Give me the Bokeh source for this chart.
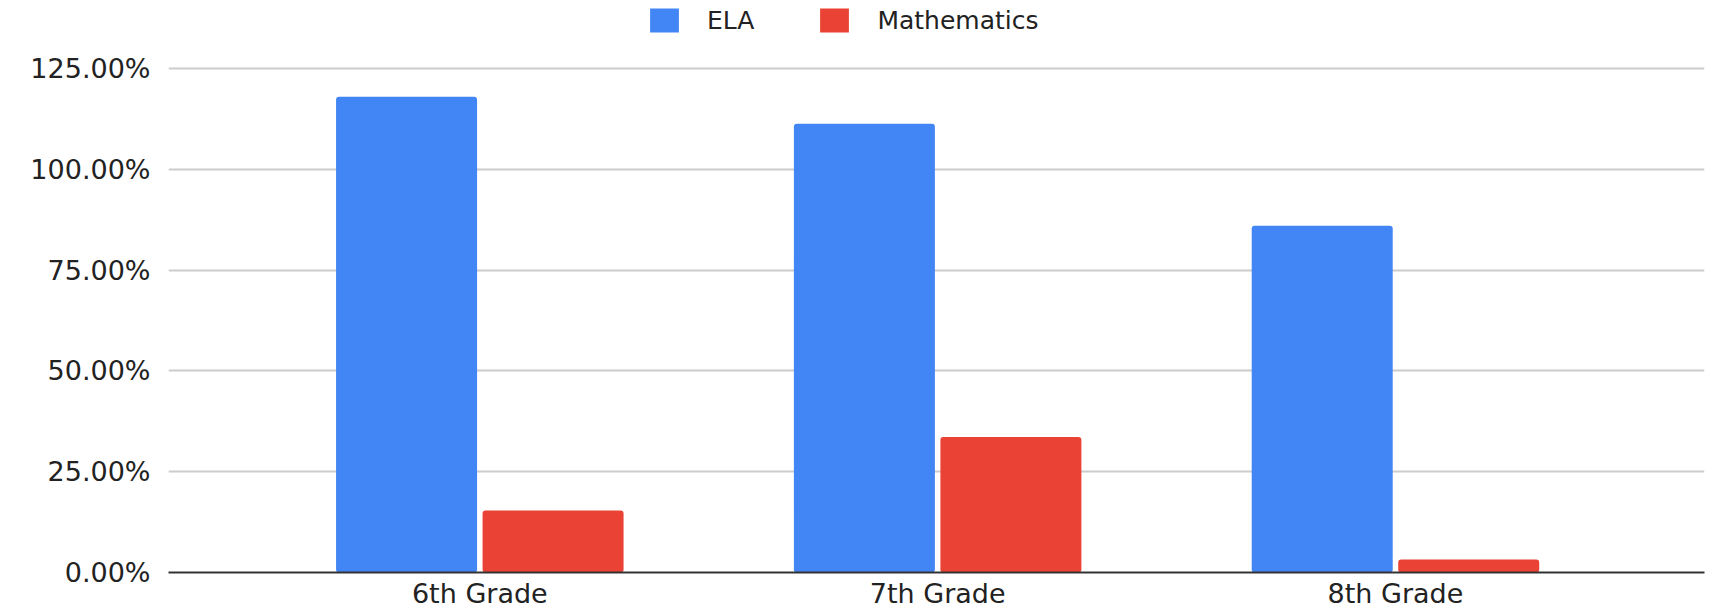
from bokeh.plotting import figure
from bokeh.models import ColumnDataSource, FixedTicker, Legend, LegendItem, Range1d
from bokeh.transform import dodge
from bokeh.embed import file_html
from bokeh.resources import INLINE

grades = ["6th Grade", "7th Grade", "8th Grade"]
ela = [118.0, 111.3, 86.0]
mathematics = [15.4, 33.6, 3.2]
series_names = ["ELA", "Mathematics"]
y_ticks = [0, 25, 50, 75, 100, 125]
y_tick_labels = ["0.00%", "25.00%", "50.00%", "75.00%", "100.00%", "125.00%"]

BLUE = "#4285F4"
RED = "#EA4335"
FONT = "DejaVu Sans"

positions = list(range(len(grades)))
source = ColumnDataSource(data=dict(pos=positions, grade=grades, ela=ela, mathematics=mathematics))

# frame reaches the top of the figure so the legend can sit inside it;
# the y range is extended above 125 to leave room for the legend
p = figure(width=1713, height=611, output_backend="svg", toolbar_location=None,
           x_range=Range1d(-0.68, 2.675), y_range=Range1d(0, 141.9))
p.min_border_left = 168
p.min_border_right = 9
p.min_border_top = 0
p.min_border_bottom = 0
p.outline_line_color = None
p.background_fill_color = "white"
p.border_fill_color = "white"

r_ela = p.vbar(x=dodge("pos", -0.16, range=p.x_range), top="ela", bottom=0, width=0.308,
               source=source, fill_color=BLUE, line_color=None, border_radius=3)
r_math = p.vbar(x=dodge("pos", 0.16, range=p.x_range), top="mathematics", bottom=0, width=0.308,
                source=source, fill_color=RED, line_color=None, border_radius=3)

# y axis
yax = p.yaxis[0]
yax.ticker = FixedTicker(ticks=y_ticks)
yax.major_label_overrides = {t: lab for t, lab in zip(y_ticks, y_tick_labels)}
yax.axis_line_color = None
yax.major_tick_line_color = None
yax.minor_tick_line_color = None
yax.major_tick_out = 0
yax.major_label_standoff = 18
yax.major_label_text_font = FONT
yax.major_label_text_font_size = "27px"
yax.major_label_text_color = "#222222"

# x axis
xax = p.xaxis[0]
xax.ticker = FixedTicker(ticks=positions)
xax.major_label_overrides = {i: g for i, g in zip(positions, grades)}
xax.axis_line_color = "#333333"
xax.axis_line_width = 2
xax.major_tick_line_color = None
xax.minor_tick_line_color = None
xax.major_tick_out = 0
xax.major_tick_in = 0
xax.major_label_standoff = 5
xax.major_label_text_font = FONT
xax.major_label_text_font_size = "27px"
xax.major_label_text_color = "#222222"

p.xgrid.grid_line_color = None
p.ygrid.ticker = FixedTicker(ticks=y_ticks[1:])
p.ygrid.grid_line_color = "#cccccc"
p.ygrid.grid_line_width = 2

legend = Legend(items=[LegendItem(label=series_names[0], renderers=[r_ela]),
                       LegendItem(label=series_names[1], renderers=[r_math])],
                orientation="horizontal", location=(478, 537),
                padding=0, margin=0, spacing=62, label_standoff=25,
                glyph_width=36, glyph_height=30,
                label_text_font=FONT, label_text_font_size="25px",
                label_text_color="#222222",
                border_line_color=None, background_fill_alpha=0)
p.add_layout(legend, "center")

open("out.html", "w").write(file_html(p, INLINE))
